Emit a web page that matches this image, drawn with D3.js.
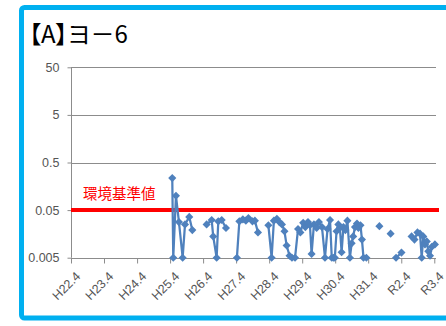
<!DOCTYPE html>
<html>
<head>
<meta charset="utf-8">
<script src="https://cdn.jsdelivr.net/npm/d3@7"></script>
<style>
  html, body { margin: 0; padding: 0; background: #fff; overflow: hidden; }
  svg { display: block; }
  .title { font-feature-settings: "palt"; }
</style>
</head>
<body>
<svg id="chart" width="446" height="326"></svg>
<script>
// Chart title and reference level
const chartTitle = "【A】ヨ－6";
const standardLabel = "環境基準値";
const standardValue = 0.05;

// Year-start ticks (April of each fiscal year) and their era labels
const tickDates = ["2010-04-01","2011-04-01","2012-04-01","2013-04-01","2014-04-01","2015-04-01",
                   "2016-04-01","2017-04-01","2018-04-01","2019-04-01","2020-04-01","2021-04-01"];
const tickLabels = ["H22.4","H23.4","H24.4","H25.4","H26.4","H27.4",
                    "H28.4","H29.4","H30.4","H31.4","R2.4","R3.4"];
const yTicks = [0.005, 0.05, 0.5, 5, 50];

// Sampling dates and measured concentrations (mg/L); null marks a break in the record
const sampleDates = [
  "2013-04-25","2013-05-06","2013-06-05","2013-07-08","2013-08-18","2013-09-13","2013-10-30","2013-12-03",
  "2014-02-01",
  "2014-05-10","2014-07-05","2014-07-22","2014-08-29","2014-09-16","2014-10-24","2014-12-10",
  "2015-02-01",
  "2015-04-10","2015-05-07","2015-06-15","2015-07-18","2015-08-15","2015-09-29","2015-10-26","2015-11-29",
  "2016-01-15",
  "2016-03-23","2016-04-28","2016-05-23","2016-06-25","2016-07-23","2016-08-20","2016-09-17","2016-10-11",
  "2016-11-12","2016-12-09","2017-01-12","2017-02-14","2017-03-12","2017-04-12","2017-05-06","2017-06-04",
  "2017-06-26","2017-07-14","2017-08-09","2017-09-08","2017-10-03","2017-11-06","2017-12-09","2018-01-06",
  "2018-02-03","2018-02-22","2018-03-12","2018-03-28","2018-04-16","2018-05-06","2018-05-23","2018-06-11",
  "2018-07-01","2018-07-23","2018-08-14","2018-09-11","2018-09-30","2018-10-17","2018-11-06","2018-11-28",
  "2018-12-14","2019-01-06","2019-01-22","2019-02-08","2019-03-12",
  "2019-05-20",
  "2019-08-03",
  "2019-10-01",
  "2019-12-05",
  "2020-01-10",
  "2020-02-03","2020-04-03",
  "2020-06-01",
  "2020-07-24","2020-08-25","2020-09-27","2020-10-25","2020-11-13","2020-11-30","2020-12-19","2021-01-08",
  "2021-01-25","2021-02-13","2021-03-05","2021-04-08"
];
const concentrations = [
  0.235, 0.005, 0.10, 0.028, 0.005, 0.025, 0.036, 0.019,
  null,
  0.025, 0.031, 0.014, 0.005, 0.029, 0.031, 0.021,
  null,
  0.005, 0.029, 0.032, 0.030, 0.034, 0.029, 0.030, 0.017,
  null,
  0.024, 0.005, 0.030, 0.033, 0.028, 0.025, 0.018, 0.009,
  0.0055, 0.005, 0.005, 0.020, 0.017, 0.027, 0.022, 0.028,
  0.024, 0.006, 0.025, 0.021, 0.028, 0.022, 0.005, 0.020,
  0.031, 0.005, 0.005, 0.005, 0.018, 0.025, 0.021, 0.0065,
  0.022, 0.019, 0.030, 0.005, 0.010, 0.014, 0.022, 0.026,
  0.021, 0.024, 0.012, 0.005, 0.005,
  null,
  0.023,
  null,
  0.016,
  null,
  0.005, 0.0064,
  null,
  0.014, 0.012, 0.017, 0.016, 0.005, 0.014, 0.0095, 0.011,
  0.0068, 0.0055, 0.0085, 0.0095
];

const parse = d3.timeParse("%Y-%m-%d");
const records = sampleDates.map((d, i) => ({ date: parse(d), value: concentrations[i] }));

const svg = d3.select("#chart");

// Light-blue frame
svg.append("rect")
  .attr("x", 21.5).attr("y", 7.5)
  .attr("width", 440).attr("height", 310.5)
  .attr("rx", 3)
  .attr("fill", "#fff")
  .attr("stroke", "#00B0F0")
  .attr("stroke-width", 5);

svg.append("text")
  .attr("class", "title")
  .attr("x", 29).attr("y", 43)
  .attr("font-family", "'Noto Sans CJK JP', sans-serif")
  .attr("font-size", 24)
  .attr("fill", "#000")
  .text(chartTitle);

const x = d3.scaleTime()
  .domain([parse("2010-04-01"), parse("2021-04-20")])
  .range([71, 436]);
const y = d3.scaleLog()
  .domain([0.005, 50])
  .range([257.7, 67.3]);

const axisColor = "#8c8c8c";
const labelFont = "'Liberation Sans', Arial, sans-serif";

// Horizontal gridlines
svg.append("g")
  .selectAll("line")
  .data(yTicks.filter(v => v > 0.005))
  .join("line")
  .attr("x1", 71).attr("x2", 436)
  .attr("y1", d => Math.round(y(d)) + 0.5).attr("y2", d => Math.round(y(d)) + 0.5)
  .attr("stroke", axisColor).attr("stroke-width", 1);

// Y axis
const yAxis = svg.append("g")
  .attr("transform", "translate(71.5,0)")
  .call(d3.axisLeft(y).tickValues(yTicks).tickSize(4).tickPadding(8)
        .tickFormat(d3.format("~g")));
yAxis.select(".domain").attr("stroke", axisColor).attr("d", `M0,${y(50)}V${y(0.005)}`);
yAxis.selectAll(".tick line").attr("stroke", axisColor);
yAxis.selectAll(".tick text")
  .attr("font-family", labelFont).attr("font-size", 12.5).attr("fill", "#555");

// X axis
const xAxis = svg.append("g")
  .attr("transform", `translate(0,${Math.round(y(0.005)) + 0.5})`)
  .call(d3.axisBottom(x).tickValues(tickDates.map(parse)).tickSize(5)
        .tickFormat((d, i) => tickLabels[i]));
xAxis.select(".domain").attr("stroke", axisColor).attr("d", `M71,0H436`);
xAxis.selectAll(".tick line").attr("stroke", axisColor);
xAxis.selectAll(".tick text")
  .attr("font-family", labelFont).attr("font-size", 12.5).attr("fill", "#555")
  .attr("text-anchor", "end")
  .attr("dy", 0)
  .attr("transform", "translate(4,13) rotate(-45)");

// Environmental standard line
svg.append("line")
  .attr("x1", 71).attr("x2", 439)
  .attr("y1", y(standardValue)).attr("y2", y(standardValue))
  .attr("stroke", "#FF0000").attr("stroke-width", 4);
svg.append("text")
  .attr("x", 83).attr("y", 198.5)
  .attr("font-family", "'Noto Sans CJK JP', sans-serif")
  .attr("font-size", 14.5)
  .attr("fill", "#FF0000")
  .text(standardLabel);

// Concentration series
const line = d3.line()
  .defined(d => d.value !== null)
  .x(d => x(d.date)).y(d => y(d.value));
svg.append("path")
  .datum(records)
  .attr("d", line)
  .attr("fill", "none")
  .attr("stroke", "#4F81BD")
  .attr("stroke-width", 2.25)
  .attr("stroke-linejoin", "round");

const diamond = d3.symbol().type(d3.symbolDiamond2).size(42);
svg.append("g")
  .selectAll("path")
  .data(records.filter(d => d.value !== null))
  .join("path")
  .attr("transform", d => `translate(${x(d.date)},${y(d.value)})`)
  .attr("d", diamond)
  .attr("fill", "#4F81BD");
</script>
</body>
</html>
